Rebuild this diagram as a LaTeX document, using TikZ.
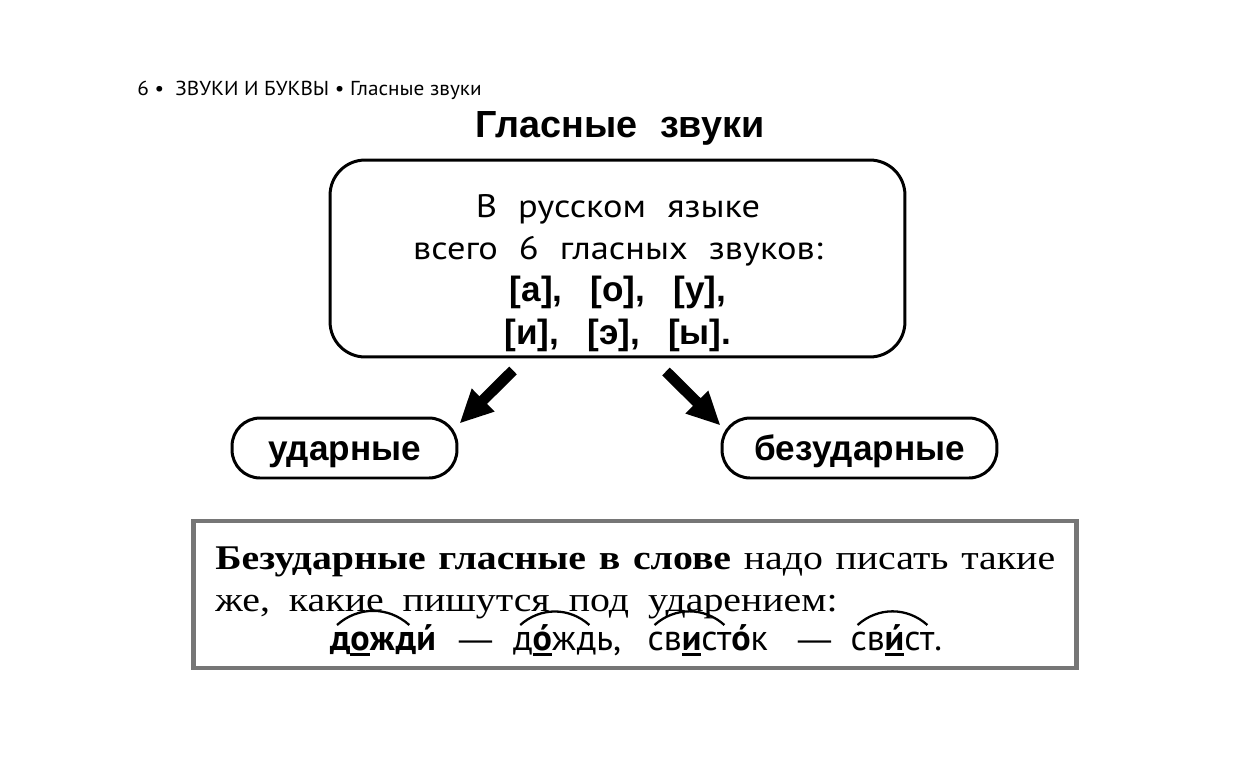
\documentclass[tikz,border=0pt]{standalone}
\usepackage{fontspec}
\setmainfont{Liberation Serif}
\newfontfamily\headfont[FakeStretch=1.05]{PT Sans}
\newfontfamily\boxfont[FakeStretch=1.12]{PT Sans}
\newfontfamily\wordfont{PT Sans}
\newfontfamily\arialfont{Liberation Sans}
\newfontfamily\rulefont[FakeStretch=1.15]{Liberation Serif}
\usetikzlibrary{arrows.meta, positioning, calc}

\definecolor{rulegray}{RGB}{118,118,118}

% underlined letter with a thick bar
\newcommand\undl[1]{\setbox0\hbox{#1}\rlap{\rule[-3.5pt]{\wd0}{1.6pt}}\box0}
% wider word spaces
\newcommand\wsp[1]{\spaceskip=#1\relax}

\begin{document}
\begin{tikzpicture}[x=0.02cm, y=-0.02cm,
    rbox/.style={draw, line width=1.7pt, rounded corners=#1, inner sep=0pt},
    rbox/.default=20pt,
    kindbox/.style={rbox=16pt, minimum height=1.2cm, text height=14pt, text depth=0pt,
        font=\arialfont\bfseries\fontsize{20}{24}\selectfont},
    fatarrow/.style={line width=6.2pt, -{Triangle[width=17pt,length=19pt]}},
    part/.style={inner sep=0pt, outer sep=0pt, font=\wordfont\fontsize{20.5}{24}\selectfont},
    roof/.style={line width=1.3pt}]
    \useasboundingbox (0,0) rectangle (1240,768);

    % Header and title
    \node[anchor=base west, inner sep=0pt, font=\headfont\fontsize{11.5}{14}\selectfont] (hdr) at (137,95) {6 •\ \ ЗВУКИ И БУКВЫ • Гласные звуки};
    \node[anchor=base, inner sep=0pt, font=\arialfont\bfseries\fontsize{21.5}{24}\selectfont\wsp{0.6em}] (title) at (620,137) {Гласные звуки};

    % Top box
    \node[rbox, minimum width=11.5cm, minimum height=3.94cm] (top) at (617.5,258.5) {};
    \node[align=center, inner sep=0pt, font=\boxfont\fontsize{18.5}{24}\selectfont\wsp{0.65em}] (toptxt) at (618,273) {
        В русском языке\\
        всего 6 гласных звуков:\\
        {\arialfont\bfseries\fontsize{20}{24}\selectfont\wsp{0.8em}[а], [о], [у],}\\
        {\arialfont\bfseries\fontsize{20}{24}\selectfont\wsp{0.8em}[и], [э], [ы].}
    };

    % Two kinds
    \node[kindbox, minimum width=4.5cm] (udar) at (344.5,448) {ударные};
    \node[kindbox, minimum width=5.5cm] (bezudar) at (859.5,448) {безударные};

    \coordinate (la) at ($(top.south)+(-104.5,12)$);
    \coordinate (ra) at ($(top.south)+(48.5,13)$);
    \draw[fatarrow] (la) -- ([shift={(1,7)}]udar.north east);
    \draw[fatarrow] (ra) -- ([shift={(0,9)}]bezudar.north west);

    % Rule box
    \node[draw=rulegray, line width=2.8pt, minimum width=17.68cm, minimum height=2.94cm, inner sep=0pt] (rule) at (635,594.5) {};
    \node[anchor=north west, inner sep=0pt, text width=16.8cm, align=justify,
        font=\rulefont\fontsize{19.7}{24.4}\selectfont\wsp{0.55em plus 0.5em minus 0.3em}] (ruletxt) at (215,546)
        {\textbf{Безударные гласные в слове} надо писать такие\linebreak же, какие пишутся под ударением:};

    % Examples
    \node[part, anchor=base west] (w1) at (330,650) {\bfseries д\undl{о}жд};
    \node[part, base right=0pt of w1] (w1e) {\bfseries и́};
    \node[part, base right=13pt of w1e, font=\arialfont\fontsize{19}{24}\selectfont] (dash1) {—};
    \node[part, base right=12pt of dash1] (w2) {д\undl{\bfseries о́}жд};
    \node[part, base right=0pt of w2] (w2e) {ь,};
    \node[part, base right=15pt of w2e] (w3) {св\undl{\bfseries и}ст};
    \node[part, base right=0pt of w3] (w3e) {\bfseries о́\mdseries к};
    \node[part, base right=17pt of w3e, font=\arialfont\fontsize{19}{24}\selectfont] (dash2) {—};
    \node[part, base right=11pt of dash2] (w4) {св\undl{\bfseries и́}ст};
    \node[part, base right=0pt of w4] (w4e) {.};

    \foreach \w in {w1,w2,w3,w4}
        \draw[roof] ([shift={(7,-25)}]\w.base west) to[bend left=42] ([shift={(-7,-25)}]\w.base east);
\end{tikzpicture}
\end{document}
